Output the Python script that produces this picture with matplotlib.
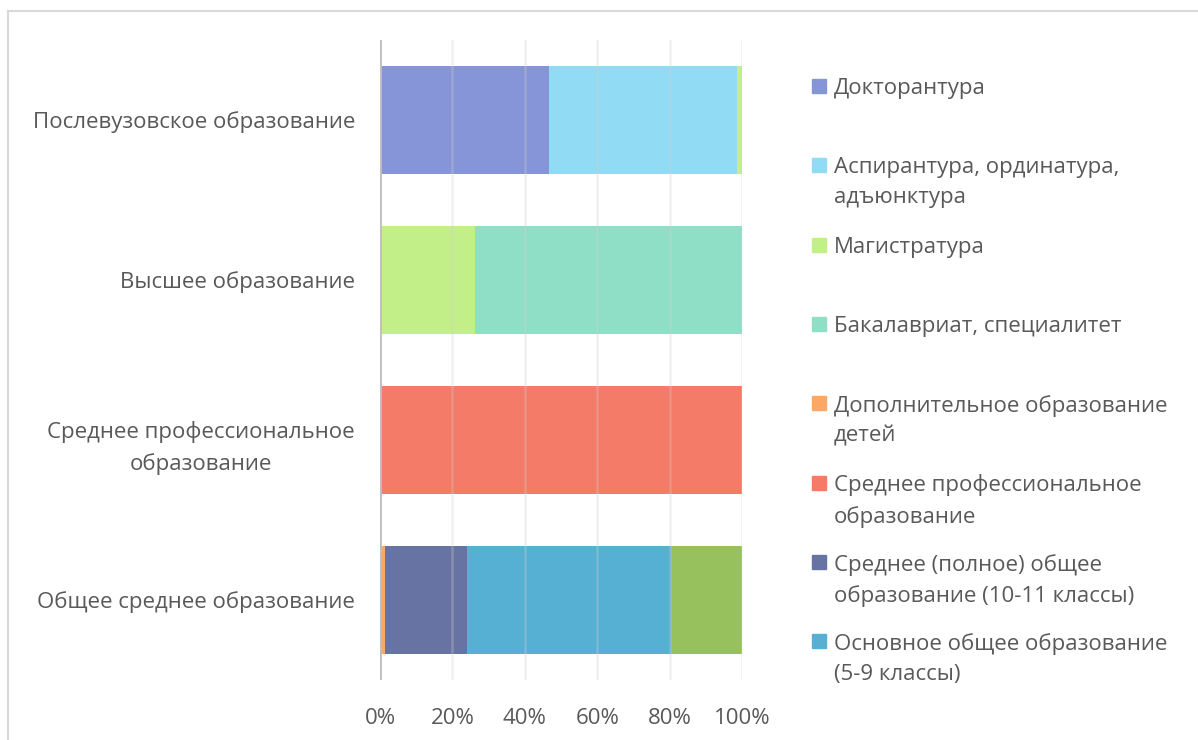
import matplotlib
matplotlib.use("Agg")
import matplotlib.pyplot as plt
from matplotlib.patches import Rectangle
from matplotlib.lines import Line2D
import numpy as np

plt.rcParams['font.family'] = ['Open Sans', 'DejaVu Sans']

categories = ["Послевузовское образование", "Высшее образование",
              "Среднее профессиональное\nобразование", "Общее среднее образование"]

series_names = ["Докторантура",
                "Аспирантура, ординатура,\nадъюнктура",
                "Магистратура",
                "Бакалавриат, специалитет",
                "Дополнительное образование\nдетей",
                "Среднее профессиональное\nобразование",
                "Среднее (полное) общее\nобразование (10-11 классы)",
                "Основное общее образование\n(5-9 классы)",
                "Начальное общее образование\n(1-4 классы)"]

# percentage values per series, order of categories above
values = {
    "Докторантура":        [46.7, 0, 0, 0],
    "Аспирантура":         [51.9, 0, 0, 0],
    "Магистратура":        [1.4, 26.2, 0, 0],
    "Бакалавриат":         [0, 73.8, 0, 0.4],
    "Доп":                 [0, 0, 0, 1.0],
    "СПО":                 [0, 0, 100.0, 0],
    "Среднее полное":      [0, 0, 0, 22.6],
    "Основное":            [0, 0, 0, 56.3],
    "Начальное":           [0, 0, 0, 19.7],
}
colors = ["#8595D8", "#92DBF4", "#C3EF89", "#8FDEC6", "#FBA766",
          "#F47B67", "#6773A3", "#55B0D3", "#96C15D"]
legend_count = 8  # last entry does not fit in the legend area

W, H = 1198, 740
fig = plt.figure(figsize=(W / 100, H / 100), dpi=100)
ax = fig.add_axes([380 / W, 1 - 680 / H, 362 / W, 640 / H])

ypos = np.arange(len(categories))
left = np.zeros(len(categories))
for name_key, col in zip(values.keys(), colors):
    v = np.array(values[name_key], dtype=float)
    ax.barh(ypos, v, left=left, height=0.67, color=col, zorder=2)
    left += v

ax.set_xlim(0, 100)
ax.set_ylim(len(categories) - 0.5, -0.5)
ax.set_xticks(np.arange(0, 101, 20))
ax.set_xticklabels([f"{t}%" for t in range(0, 101, 20)])
ax.set_yticks(ypos)
ax.set_yticklabels(categories, multialignment='center', linespacing=1.65)
txt_col = "#595959"
ax.tick_params(axis='both', length=0, labelsize=16, colors=txt_col)
ax.tick_params(axis='y', pad=18)
ax.tick_params(axis='x', pad=20)
for s in ax.spines.values():
    s.set_visible(False)
ax.xaxis.grid(True, color="#D0D0D0", linewidth=1.8, alpha=0.3, zorder=3)
ax.set_axisbelow(False)
ax.axvline(0, color="#BFBFBF", linewidth=2, zorder=4)

# legend drawn manually
y0 = 86
step = 79.3
for i in range(legend_count):
    y = y0 + i * step
    fig.patches.append(Rectangle((812 / W, 1 - (y + 7) / H), 14 / W, 14 / H,
                                 transform=fig.transFigure, color=colors[i]))
    fig.text(834 / W, 1 - (y - 8) / H, series_names[i], fontsize=16, color=txt_col,
             va='top', ha='left', linespacing=1.55)

# chart border
fig.add_artist(Line2D([8 / W, 8 / W], [0, 1 - 11 / H], transform=fig.transFigure,
                      color="#D9D9D9", linewidth=1.5))
fig.add_artist(Line2D([8 / W, 1], [1 - 11 / H, 1 - 11 / H], transform=fig.transFigure,
                      color="#D9D9D9", linewidth=1.5))

fig.savefig("out.png", dpi=100)
